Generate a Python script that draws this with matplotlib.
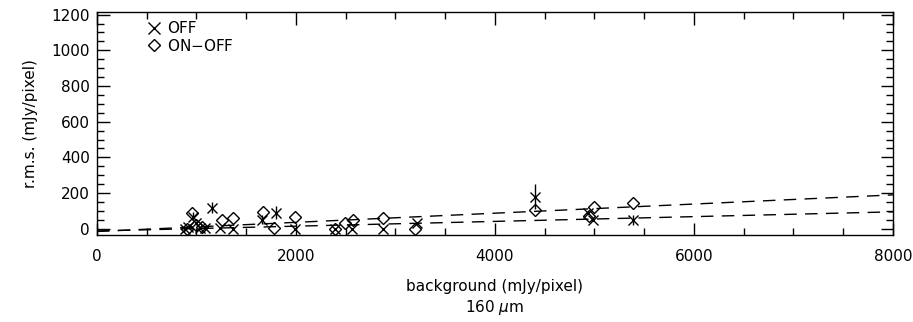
import matplotlib
matplotlib.use('Agg')
import matplotlib.pyplot as plt
from matplotlib.ticker import MultipleLocator

# OFF measurements (x marker, some with vertical error bars)
off_bg = [880, 920, 965, 1000, 1040, 1085, 1156, 1236, 1367, 1660, 1800, 1990, 2392, 2560, 2874, 3216, 4402, 4940, 4990, 5387]
off_rms = [0, 10, 67, 30, 5, 5, 118, 5, 0, 50, 90, 0, 0, 0, 0, 35, 180, 90, 50, 50]
off_err = [0, 0, 25, 0, 0, 0, 30, 0, 0, 25, 35, 0, 0, 0, 0, 0, 70, 0, 0, 30]

# ON-OFF measurements (diamonds)
onoff_bg = [900, 960, 1000, 1060, 1256, 1367, 1668, 1780, 1990, 2392, 2490, 2573, 2874, 3200, 4402, 4950, 5000, 5387]
onoff_rms = [0, 90, 20, 10, 50, 62, 95, 5, 67, 0, 35, 50, 62, 0, 107, 70, 124, 146]

# linear fits (dashed)
fit_bg = [0, 8000]
fit_off = [-12, 95]
fit_onoff = [-15, 190]

fig = plt.figure(figsize=(9.13, 3.22), dpi=100)
ax = fig.add_axes([0.1062, 0.270, 0.8718, 0.693])

ax.plot(fit_bg, fit_onoff, color='black', lw=1.0, dashes=(9, 6))
ax.plot(fit_bg, fit_off, color='black', lw=1.0, dashes=(9, 6))

off_h = ax.errorbar(off_bg, off_rms, yerr=off_err, fmt='x', color='black', ms=7, mew=1.0,
                    elinewidth=1.0, capsize=0)
on_h, = ax.plot(onoff_bg, onoff_rms, 'D', mfc='none', mec='black', ms=6, mew=1.0, ls='none')

ax.set_xlim(0, 8000)
ax.set_ylim(-35, 1215)
ax.xaxis.set_major_locator(MultipleLocator(2000))
ax.xaxis.set_minor_locator(MultipleLocator(500))
ax.yaxis.set_major_locator(MultipleLocator(200))
ax.yaxis.set_minor_locator(MultipleLocator(50))
ax.tick_params(which='both', direction='in', top=True, right=True, labelsize=11, width=1.0)
ax.tick_params(which='major', length=9)
ax.tick_params(axis='x', which='major', pad=10)
ax.tick_params(axis='y', which='major', pad=5)
ax.tick_params(which='minor', length=5)
for s in ax.spines.values():
    s.set_linewidth(1.0)

ax.set_xlabel('background (mJy/pixel)\n160 $\\mu$m', fontsize=11, linespacing=1.25, labelpad=11)
ax.set_ylabel('r.m.s. (mJy/pixel)', fontsize=11, labelpad=10)

off_marker = plt.Line2D([], [], marker='x', color='black', ms=8, mew=1.0, ls='none')
ax.legend([off_marker, on_h], ['OFF', 'ON$-$OFF'], loc='upper left', frameon=False, fontsize=11,
          handletextpad=0.4, borderaxespad=0.2, labelspacing=0.1,
          bbox_to_anchor=(0.05, 1.0), handlelength=1.0)

fig.savefig('out.png', dpi=100)
